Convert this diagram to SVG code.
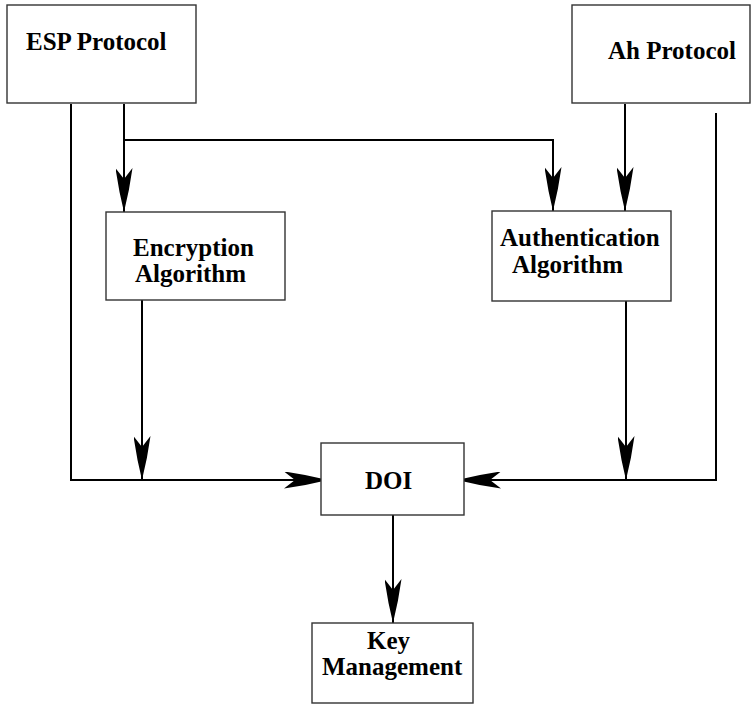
<svg xmlns="http://www.w3.org/2000/svg" width="751" height="704" viewBox="0 0 751 704">
  <style>
    .box { fill: #ffffff; stroke: #333333; stroke-width: 1.4; }
    .lbl { font-family: "Liberation Serif", "Times New Roman", serif; font-weight: bold; font-size: 25px; fill: #000000; }
    .wire { fill: none; stroke: #000000; stroke-width: 2; }
  </style>
  <defs>
    <marker id="barb" viewBox="0 0 44 17" refX="44" refY="8.5" markerWidth="44" markerHeight="17" markerUnits="userSpaceOnUse" orient="auto">
      <path d="M0,0 Q22,3 44,8.5 Q22,14 0,17 L11,8.5 Z" fill="#000000"/>
    </marker>
  </defs>

  <rect width="751" height="704" fill="#ffffff"/>

  <g id="connectors">
    <!-- ESP to Encryption -->
    <polyline class="wire" points="124,104 124,212" marker-end="url(#barb)"/>
    <!-- ESP branch to Authentication -->
    <polyline class="wire" points="124,140 553,140 553,211" marker-end="url(#barb)"/>
    <!-- Ah to Authentication -->
    <polyline class="wire" points="625,104 625,211" marker-end="url(#barb)"/>
    <!-- ESP direct to DOI -->
    <polyline class="wire" points="71,104 71,480 328,480" marker-end="url(#barb)"/>
    <!-- Encryption down to bus -->
    <polyline class="wire" points="142,300 142,480" marker-end="url(#barb)"/>
    <!-- Ah direct to DOI -->
    <polyline class="wire" points="716,113 716,480 457,480" marker-end="url(#barb)"/>
    <!-- Authentication down to bus -->
    <polyline class="wire" points="626,301 626,480" marker-end="url(#barb)"/>
    <!-- DOI to Key Management -->
    <polyline class="wire" points="393,515 393,623" marker-end="url(#barb)"/>
  </g>

  <g id="esp">
    <rect class="box" x="7" y="5" width="189" height="98"/>
    <text class="lbl" x="26" y="50">ESP Protocol</text>
  </g>

  <g id="ah">
    <rect class="box" x="572" y="5" width="178" height="98"/>
    <text class="lbl" x="608" y="59">Ah Protocol</text>
  </g>

  <g id="encryption">
    <rect class="box" x="106" y="212" width="179" height="88"/>
    <text class="lbl" x="133" y="256">Encryption</text>
    <text class="lbl" x="135" y="282">Algorithm</text>
  </g>

  <g id="authentication">
    <rect class="box" x="492" y="211" width="179" height="90"/>
    <text class="lbl" x="500" y="246">Authentication</text>
    <text class="lbl" x="512" y="273">Algorithm</text>
  </g>

  <g id="doi">
    <rect class="box" x="321" y="443" width="143" height="72"/>
    <text class="lbl" x="365" y="489">DOI</text>
  </g>

  <g id="key-management">
    <rect class="box" x="312" y="623" width="161" height="80"/>
    <text class="lbl" x="367" y="649">Key</text>
    <text class="lbl" x="322" y="675">Management</text>
  </g>
</svg>
